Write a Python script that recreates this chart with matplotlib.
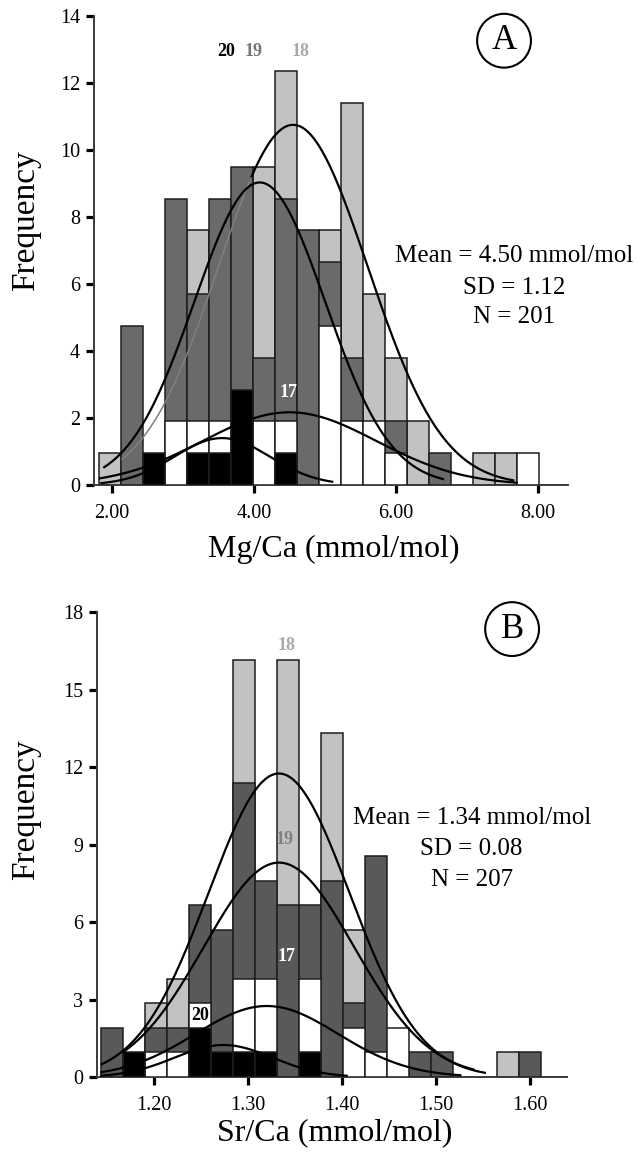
import numpy as np
import matplotlib.pyplot as plt

plt.rcParams['font.family'] = ['Liberation Serif', 'DejaVu Serif']

# ---- panel A : Mg/Ca ----
a_edge0 = 1.822
a_width = 0.3095
a_lg = [0.95, 0, 0, 0, 7.6, 7.6, 0, 9.5, 12.35, 6.65, 7.6, 11.4, 5.7, 3.8, 1.9, 0, 0, 0.95, 0.95, 0]     # 18
a_dg = [0, 4.75, 0, 8.55, 5.7, 8.55, 9.5, 3.8, 8.55, 7.6, 6.65, 3.8, 0, 1.9, 0, 0.95, 0, 0, 0, 0]       # 19
a_w = [0, 0, 0, 1.9, 1.9, 1.9, 0, 1.9, 1.9, 0, 4.75, 1.9, 1.9, 0.95, 0, 0, 0, 0, 0, 0.95]              # 17
a_b = [0, 0, 0.95, 0, 0.95, 0.95, 2.85, 0, 0.95, 0, 0, 0, 0, 0, 0, 0, 0, 0, 0, 0]                     # 20
# normal curves: mean, sd, peak, x from, x to
a_curves = {'18': (4.55, 1.05, 10.75, 2.14, 7.65),
            '19': (4.08, 0.92, 9.03, 1.89, 6.66),
            '17': (4.50, 1.22, 2.17, 1.83, 7.70),
            '20': (3.55, 0.67, 1.40, 1.85, 5.10)}
a_xticks = [2.0, 4.0, 6.0, 8.0]
a_yticks = [0, 2, 4, 6, 8, 10, 12, 14]

# ---- panel B : Sr/Ca ----
b_edge0 = 1.1436
b_width = 0.02339
b_lg = [0, 0, 2.85, 3.8, 0, 0, 16.15, 0, 16.15, 0, 13.3, 5.7, 0, 0, 0, 0, 0, 0, 0.95, 0]
b_dg = [1.9, 0, 1.9, 1.9, 6.65, 5.7, 11.4, 7.6, 6.65, 6.65, 7.6, 2.85, 8.55, 0, 0.95, 0.95, 0, 0, 0, 0.95]
b_w = [0, 0, 0.95, 0.95, 2.85, 0, 3.8, 3.8, 0, 3.8, 0, 1.9, 0.95, 1.9, 0, 0, 0, 0, 0, 0]
b_b = [0, 0.95, 0, 0, 1.9, 0.95, 0.95, 0.95, 0, 0.95, 0, 0, 0, 0, 0, 0, 0, 0, 0, 0]
b_curves = {'18': (1.333, 0.075, 11.75, 1.1444, 1.552),
            '19': (1.333, 0.080, 8.30, 1.167, 1.540),
            '17': (1.320, 0.076, 2.75, 1.144, 1.526),
            '20': (1.274, 0.052, 1.24, 1.144, 1.405)}
b_xticks = [1.2, 1.3, 1.4, 1.5, 1.6]
b_yticks = [0, 3, 6, 9, 12, 15, 18]

LG = '#c2c2c2'
EDGE = '#1e1e1e'


def draw_bars(ax, edge0, width, layers):
    lefts = edge0 + width * np.arange(len(layers[0][0]))
    for z, (h, col) in enumerate(layers):
        h = np.array(h)
        m = h > 0
        ax.bar(lefts[m], h[m], width=width, align='edge', color=col,
               edgecolor=EDGE, linewidth=1.1, zorder=2 + z)


def gauss(mu, sd, amp, x0, x1):
    x = np.linspace(x0, x1, 200)
    return x, amp * np.exp(-(x - mu) ** 2 / (2 * sd ** 2))


def style_axes(ax, xlim, ylim, xticks, yticks):
    ax.set_xlim(xlim)
    ax.set_ylim(ylim)
    for s in ['top', 'right']:
        ax.spines[s].set_visible(False)
    for s in ['left', 'bottom']:
        ax.spines[s].set_color('#3a3a3a')
        ax.spines[s].set_linewidth(1.4)
    ax.set_xticks(xticks)
    ax.set_xticklabels(['%.2f' % v for v in xticks])
    ax.set_yticks(yticks)
    ax.tick_params(direction='out', length=6, width=2.3, color='black',
                   labelsize=14.5, pad=4)
    ax.tick_params(axis='x', pad=8)


fig = plt.figure(figsize=(6.38, 11.55), dpi=100)

# ---------- A ----------
ax = fig.add_axes([0.1473, 0.5801, 0.7429, 0.4061])
draw_bars(ax, a_edge0, a_width,
          [(a_lg, LG), (a_dg, '#6a6a6a'), (a_w, 'white'), (a_b, 'black')])
for k, (mu, sd, amp, x0, x1) in a_curves.items():
    x, y = gauss(mu, sd, amp, x0, x1)
    if k == '18':
        m = x <= 3.95
        ax.plot(x[m], y[m], color='#808080', lw=1.1, zorder=10)
        ax.plot(x[~m], y[~m], color='black', lw=1.6, zorder=10)
    else:
        ax.plot(x, y, color='black', lw=1.6, zorder=10)
style_axes(ax, (1.746, 8.42), (0, 14), a_xticks, a_yticks)

ax.text(3.606, 12.95, '20', color='black', fontsize=13, fontweight='bold', ha='center', va='center')
ax.text(3.986, 12.95, '19', color='#777777', fontsize=13, fontweight='bold', ha='center', va='center')
ax.text(4.648, 12.95, '18', color='#aaaaaa', fontsize=13, fontweight='bold', ha='center', va='center')
ax.text(4.48, 2.75, '17', color='white', fontsize=13, fontweight='bold', ha='center', va='center', zorder=12)
ax.text(7.52, 13.26, 'A', fontsize=25, ha='center', va='center',
        bbox=dict(boxstyle='circle,pad=0.3', fc='white', ec='black', lw=1.5))
ax.text(7.66, 6.83, 'Mean = 4.50 mmol/mol', fontsize=18, ha='center', va='center')
ax.text(7.66, 5.87, 'SD = 1.12', fontsize=18, ha='center', va='center')
ax.text(7.66, 5.00, 'N = 201', fontsize=18, ha='center', va='center')

fig.text(0.5235, 1 - 549 / 1155, 'Mg/Ca (mmol/mol)', fontsize=23, ha='center', va='center')
fig.text(0.041, 1 - 221 / 1155, 'Frequency', fontsize=24, rotation=90, ha='center', va='center')

# ---------- B ----------
ax = fig.add_axes([0.152, 0.0675, 0.7367, 0.4026])
draw_bars(ax, b_edge0, b_width,
          [(b_lg, LG), (b_dg, '#595959'), (b_w, 'white'), (b_b, 'black')])
for k, (mu, sd, amp, x0, x1) in b_curves.items():
    x, y = gauss(mu, sd, amp, x0, x1)
    ax.plot(x, y, color='black', lw=1.6, zorder=10)
style_axes(ax, (1.1394, 1.6394), (0, 18), b_xticks, b_yticks)

ax.text(1.3415, 16.72, '18', color='#aaaaaa', fontsize=13, fontweight='bold', ha='center', va='center')
ax.text(1.3394, 9.18, '19', color='#808080', fontsize=13, fontweight='bold', ha='center', va='center', zorder=12)
ax.text(1.3415, 4.65, '17', color='white', fontsize=13, fontweight='bold', ha='center', va='center', zorder=12)
ax.text(1.2489, 2.4, '20', color='black', fontsize=13, fontweight='bold', ha='center', va='center', zorder=12)
ax.text(1.581, 17.34, 'B', fontsize=25, ha='center', va='center',
        bbox=dict(boxstyle='circle,pad=0.3', fc='white', ec='black', lw=1.5))
ax.text(1.538, 10.03, 'Mean = 1.34 mmol/mol', fontsize=18, ha='center', va='center')
ax.text(1.538, 8.83, 'SD = 0.08', fontsize=18, ha='center', va='center')
ax.text(1.538, 7.63, 'N = 207', fontsize=18, ha='center', va='center')

fig.text(0.5251, 1 - 1133 / 1155, 'Sr/Ca (mmol/mol)', fontsize=23, ha='center', va='center')
fig.text(0.041, 1 - 810 / 1155, 'Frequency', fontsize=24, rotation=90, ha='center', va='center')

fig.savefig('out.png', dpi=100)
